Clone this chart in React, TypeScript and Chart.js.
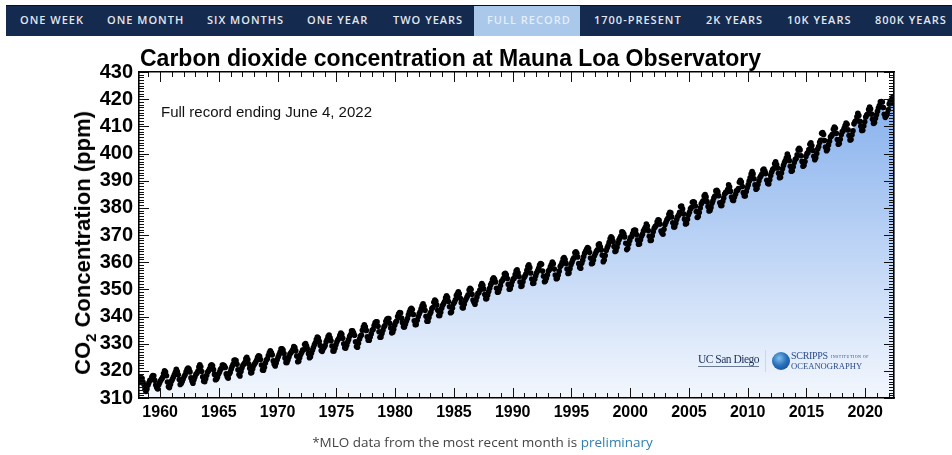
import React, { useEffect, useRef } from "react";
import { Chart, registerables } from "chart.js";

Chart.register(...registerables);

// ---- Data: Mauna Loa monthly mean CO2 (ppm), starting March 1958 ----
const START_YEAR = 1958;
const START_MONTH = 2; // March (0-based)

const co2_1958_1959 = [
  315.70, 317.45, 317.51, 317.24, 315.86, 314.93, 313.20, 312.43, 313.33, 314.67,
  315.58, 316.49, 316.65, 317.72, 318.29, 318.15, 316.54, 314.80, 313.84, 313.33, 314.81, 315.58,
];

const co2_1960s = [
  316.43, 316.98, 317.58, 319.03, 320.03, 319.59, 318.18, 315.91, 314.16, 313.83, 315.00, 316.19,
  316.89, 317.70, 318.54, 319.48, 320.58, 319.77, 318.57, 316.79, 314.99, 315.31, 316.10, 317.01,
  317.94, 318.55, 319.68, 320.57, 321.02, 320.62, 319.61, 317.40, 316.25, 315.42, 316.69, 317.70,
  318.74, 319.07, 319.86, 321.38, 322.25, 321.48, 319.74, 317.77, 316.21, 315.99, 317.07, 318.35,
  319.57, 320.01, 320.74, 321.84, 322.26, 321.89, 320.44, 318.69, 316.70, 316.87, 317.68, 318.71,
  319.44, 320.44, 320.89, 322.14, 322.17, 321.87, 321.21, 318.87, 317.81, 317.30, 318.87, 319.42,
  320.62, 321.59, 322.39, 323.87, 324.01, 323.75, 322.39, 320.37, 318.64, 318.10, 319.79, 321.08,
  322.07, 322.50, 323.04, 324.42, 325.00, 324.09, 322.54, 320.92, 319.25, 319.39, 320.73, 321.96,
  322.57, 323.15, 323.89, 325.02, 325.57, 325.36, 324.14, 322.11, 320.33, 320.25, 321.32, 322.89,
  324.00, 324.42, 325.63, 326.66, 327.38, 326.71, 325.88, 323.66, 322.38, 321.78, 322.85, 324.12,
];

const co2_1970s = [
  325.06, 325.98, 326.93, 328.13, 328.08, 327.67, 326.34, 324.69, 323.10, 323.06, 324.01, 325.13,
  326.17, 326.68, 327.17, 327.79, 328.93, 328.57, 327.36, 325.43, 323.36, 323.56, 324.80, 326.01,
  326.77, 327.63, 327.75, 329.72, 330.07, 329.09, 328.04, 326.32, 324.84, 325.20, 326.50, 327.55,
  328.55, 329.56, 330.30, 331.50, 332.48, 332.07, 330.87, 329.31, 327.51, 327.18, 328.16, 328.64,
  329.35, 330.71, 331.48, 332.65, 333.19, 332.20, 331.07, 329.15, 327.33, 327.28, 328.31, 329.58,
  330.73, 331.46, 331.94, 333.11, 333.95, 333.42, 331.97, 329.95, 328.50, 328.36, 329.38, 330.62,
  331.56, 332.74, 333.36, 334.74, 334.72, 333.98, 333.08, 330.68, 328.96, 328.72, 330.16, 331.62,
  332.68, 333.17, 334.96, 336.14, 336.93, 336.17, 334.88, 332.56, 331.29, 331.27, 332.41, 333.60,
  334.95, 335.25, 336.66, 337.69, 338.03, 338.01, 336.41, 334.41, 332.37, 332.41, 333.75, 334.90,
  336.14, 336.69, 338.27, 338.95, 339.21, 339.26, 337.54, 335.75, 333.98, 334.19, 335.31, 336.81,
];

const co2_1980s = [
  337.90, 338.34, 340.01, 340.93, 341.48, 341.33, 339.40, 337.70, 336.19, 336.15, 337.27, 338.32,
  339.29, 340.55, 341.61, 342.53, 343.03, 342.54, 340.78, 338.44, 336.95, 337.08, 338.58, 339.88,
  340.96, 341.73, 342.81, 343.97, 344.63, 343.79, 342.32, 340.09, 338.28, 338.29, 339.60, 340.90,
  341.68, 342.90, 343.33, 345.25, 346.03, 345.63, 344.19, 342.27, 340.35, 340.38, 341.59, 343.05,
  344.10, 344.79, 345.52, 346.84, 347.63, 346.97, 345.53, 343.55, 341.40, 341.67, 343.10, 344.70,
  345.21, 346.16, 347.74, 348.34, 349.06, 348.38, 346.72, 345.02, 343.27, 343.13, 344.49, 345.88,
  346.56, 347.28, 348.01, 349.77, 350.38, 349.93, 348.16, 346.08, 345.22, 344.51, 345.93, 347.22,
  348.52, 348.73, 349.73, 351.31, 352.09, 351.53, 350.11, 348.08, 346.52, 346.59, 347.96, 349.16,
  350.39, 351.64, 352.41, 353.69, 354.21, 353.72, 352.69, 350.40, 348.92, 349.13, 350.20, 351.41,
  352.91, 353.27, 353.96, 355.64, 355.86, 355.37, 353.99, 351.81, 350.05, 350.25, 351.49, 352.85,
];

const co2_1990s = [
  353.80, 354.10, 355.40, 356.76, 357.17, 356.11, 354.71, 352.67, 351.05, 351.36, 352.81, 354.22,
  354.85, 355.66, 357.04, 358.40, 359.00, 357.99, 356.00, 353.78, 352.20, 352.22, 353.70, 354.98,
  356.09, 356.85, 357.73, 358.91, 359.45, 359.19, 356.72, 354.79, 352.79, 353.20, 354.15, 355.39,
  356.77, 357.17, 358.26, 359.16, 360.07, 359.41, 357.44, 355.30, 353.87, 354.04, 355.27, 356.70,
  358.36, 358.91, 359.97, 361.26, 361.68, 360.95, 359.55, 357.49, 355.84, 356.00, 357.58, 359.04,
  359.97, 361.00, 361.64, 363.45, 363.79, 363.26, 361.90, 359.46, 358.06, 357.75, 359.56, 360.70,
  362.05, 363.25, 364.03, 364.72, 365.41, 364.97, 363.65, 361.49, 359.46, 359.60, 360.76, 362.33,
  363.18, 364.00, 364.57, 366.35, 366.79, 365.62, 364.47, 362.51, 360.19, 360.77, 362.43, 364.28,
  365.32, 366.15, 367.31, 368.61, 369.30, 368.88, 367.64, 365.78, 363.90, 364.23, 365.46, 366.97,
  368.15, 368.87, 369.59, 371.14, 371.00, 370.35, 369.27, 366.94, 364.63, 365.12, 366.67, 368.01,
];

const co2_2000s = [
  369.14, 369.46, 370.52, 371.66, 371.82, 371.70, 370.12, 368.12, 366.62, 366.73, 368.29, 369.53,
  370.28, 371.50, 372.12, 372.87, 374.02, 373.30, 371.62, 369.55, 367.96, 368.09, 369.68, 371.24,
  372.44, 373.08, 373.52, 374.85, 375.55, 375.40, 374.02, 371.48, 370.70, 370.25, 372.08, 373.78,
  374.68, 375.62, 376.11, 377.65, 378.35, 378.13, 376.61, 374.48, 372.98, 373.00, 374.35, 375.69,
  376.79, 377.36, 378.39, 380.50, 380.62, 379.55, 377.76, 375.83, 374.05, 374.22, 375.84, 377.44,
  378.34, 379.61, 380.08, 382.05, 382.24, 382.08, 380.67, 378.67, 376.42, 376.80, 378.31, 379.96,
  381.37, 382.02, 382.56, 384.37, 384.92, 384.03, 382.28, 380.48, 378.81, 379.06, 380.14, 381.66,
  382.58, 383.71, 384.34, 386.23, 386.41, 385.87, 384.45, 381.84, 380.86, 380.86, 382.36, 383.61,
  385.07, 385.72, 385.85, 386.71, 388.45, 387.64, 386.10, 383.95, 382.91, 382.73, 383.96, 385.02,
  386.26, 386.39, 387.11, 389.44, 390.18, 389.46, 387.86, 385.58, 384.38, 384.35, 386.00, 387.35,
];

const co2_2010s = [
  388.45, 389.82, 391.08, 392.46, 393.37, 392.49, 390.69, 388.45, 386.83, 387.21, 388.57, 389.95,
  391.19, 391.82, 392.44, 393.95, 394.28, 393.57, 392.61, 390.18, 388.98, 388.79, 390.36, 391.90,
  393.18, 394.13, 394.50, 396.21, 396.92, 395.96, 394.68, 392.69, 391.09, 391.24, 392.85, 394.35,
  395.62, 396.66, 397.40, 398.46, 399.76, 398.74, 397.41, 395.33, 393.50, 393.61, 395.11, 396.68,
  397.79, 398.15, 399.53, 401.36, 401.88, 401.32, 399.16, 397.09, 395.28, 395.70, 397.04, 398.88,
  399.99, 400.31, 401.50, 403.38, 403.96, 402.83, 401.12, 398.95, 397.70, 398.42, 399.96, 401.66,
  402.54, 404.09, 404.89, 407.48, 407.68, 406.97, 404.76, 402.34, 401.01, 401.52, 403.17, 404.55,
  406.10, 406.47, 407.03, 408.95, 409.72, 409.29, 407.41, 405.18, 403.43, 403.69, 405.22, 406.91,
  407.97, 408.34, 409.29, 410.29, 411.22, 410.79, 408.68, 406.63, 404.95, 405.18, 406.91, 408.37,
  410.92, 411.66, 412.00, 413.51, 414.83, 413.95, 411.81, 410.02, 408.51, 408.57, 410.16, 411.66,
];

const co2_2020s = [
  413.39, 414.11, 414.51, 416.21, 417.07, 416.38, 414.51, 412.62, 411.04, 411.41, 412.94, 414.23,
  415.52, 416.75, 417.64, 419.05, 419.13, 418.94, 416.96, 414.47, 413.30, 413.93, 414.74, 416.06,
  418.19, 419.28, 418.81, 420.23, 420.99, 420.70,
];

const yearTicks = [1960, 1965, 1970, 1975, 1980, 1985, 1990, 1995, 2000, 2005, 2010, 2015, 2020];
const ppmTicks = [310, 320, 330, 340, 350, 360, 370, 380, 390, 400, 410, 420, 430];

const X_MIN = 1958.2;
const X_MAX = 2022.45;
const Y_MIN = 310;
const Y_MAX = 430;

const navItems = [
  "ONE WEEK", "ONE MONTH", "SIX MONTHS", "ONE YEAR", "TWO YEARS",
  "FULL RECORD", "1700-PRESENT", "2K YEARS", "10K YEARS", "800K YEARS",
];
const navLefts = [20, 107, 207, 307, 393, 487, 594, 706, 787, 875];
const ACTIVE = "FULL RECORD";

const FONT = "'Liberation Sans', Arial, Helvetica, sans-serif";

// inward tick mark lengths per scale id
const TICK_LEN: Record<string, number> = {
  x: 10, xMinor: 5, xTop: 10, xTopMinor: 5,
  y: 10, yMinor: 5, yRight: 10, yRightMinor: 5,
};

const inwardTicks = {
  id: "inwardTicks",
  afterDatasetsDraw(chart: any) {
    const { ctx, chartArea: a } = chart;
    ctx.save();
    ctx.strokeStyle = "#111";
    ctx.lineWidth = 1;
    ctx.beginPath();
    for (const id of Object.keys(TICK_LEN)) {
      const s = chart.scales[id];
      if (!s) continue;
      const len = TICK_LEN[id];
      for (const t of s.ticks) {
        const p = Math.round(s.getPixelForValue(t.value)) + 0.5;
        if (s.isHorizontal()) {
          if (p < a.left - 0.5 || p > a.right + 0.5) continue;
          if (s.position === "bottom") {
            ctx.moveTo(p, a.bottom);
            ctx.lineTo(p, a.bottom - len);
          } else {
            ctx.moveTo(p, a.top);
            ctx.lineTo(p, a.top + len);
          }
        } else {
          if (p < a.top - 0.5 || p > a.bottom + 0.5) continue;
          if (s.position === "left") {
            ctx.moveTo(a.left, p);
            ctx.lineTo(a.left + len, p);
          } else {
            ctx.moveTo(a.right, p);
            ctx.lineTo(a.right - len, p);
          }
        }
      }
    }
    ctx.stroke();
    ctx.restore();
  },
};

function buildPoints() {
  const all = [
    ...co2_1958_1959, ...co2_1960s, ...co2_1970s, ...co2_1980s,
    ...co2_1990s, ...co2_2000s, ...co2_2010s, ...co2_2020s,
  ];
  return all.map((v, i) => ({
    x: START_YEAR + (START_MONTH + i + 0.5) / 12,
    y: v,
  }));
}

function ChartCanvas() {
  const ref = useRef<HTMLCanvasElement | null>(null);
  useEffect(() => {
    if (!ref.current) return;
    const pts = buildPoints();
    const noGrid = { display: false, drawTicks: false, drawOnChartArea: false };
    const border = { display: true, color: "#000", width: 1.6, z: 2 };
    const noBorder = { display: false };
    const chart = new Chart(ref.current, {
      type: "line",
      data: {
        datasets: [
          {
            label: "points",
            data: pts,
            showLine: false,
            pointRadius: 2.8,
            pointHoverRadius: 2.8,
            pointBackgroundColor: "#000",
            pointBorderWidth: 0,
            borderWidth: 0,
            fill: false,
          },
          {
            label: "fill",
            data: pts,
            pointRadius: 0,
            borderWidth: 0,
            tension: 0,
            fill: "start",
            backgroundColor: (ctx: any) => {
              const c = ctx.chart;
              const a = c.chartArea;
              if (!a) return "rgba(150,190,240,0.5)";
              const g = c.ctx.createLinearGradient(0, a.top, 0, a.bottom);
              g.addColorStop(0, "rgb(126,171,236)");
              g.addColorStop(1, "rgb(243,247,253)");
              return g;
            },
          },
        ],
      },
      options: {
        responsive: false,
        animation: false,
        devicePixelRatio: 1,
        layout: { padding: { top: 72, left: 0, right: 58, bottom: 0 } },
        plugins: {
          legend: { display: false },
          tooltip: { enabled: false },
          title: { display: false },
        },
        events: [],
        scales: {
          x: {
            type: "linear",
            position: "bottom",
            weight: 1,
            min: X_MIN,
            max: X_MAX,
            afterBuildTicks: (s: any) => {
              s.ticks = yearTicks.map((v) => ({ value: v }));
            },
            afterFit: (s: any) => {
              s.height = 57;
            },
            ticks: {
              autoSkip: false,
              maxRotation: 0,
              padding: 5,
              color: "#000",
              font: { family: FONT, size: 16, weight: "bold" },
              callback: (v: any) => String(v),
            },
            grid: noGrid,
            border,
          },
          xMinor: {
            type: "linear",
            position: "bottom",
            weight: 0,
            min: X_MIN,
            max: X_MAX,
            afterFit: (s: any) => {
              s.height = 0;
            },
            ticks: { display: false, stepSize: 1, includeBounds: false, autoSkip: false },
            grid: noGrid,
            border: noBorder,
          },
          xTop: {
            type: "linear",
            position: "top",
            weight: 1,
            min: X_MIN,
            max: X_MAX,
            afterBuildTicks: (s: any) => {
              s.ticks = yearTicks.map((v) => ({ value: v }));
            },
            afterFit: (s: any) => {
              s.height = 0;
            },
            ticks: { display: false, autoSkip: false },
            grid: noGrid,
            border,
          },
          xTopMinor: {
            type: "linear",
            position: "top",
            weight: 0,
            min: X_MIN,
            max: X_MAX,
            afterFit: (s: any) => {
              s.height = 0;
            },
            ticks: { display: false, stepSize: 1, includeBounds: false, autoSkip: false },
            grid: noGrid,
            border: noBorder,
          },
          y: {
            type: "linear",
            position: "left",
            weight: 1,
            min: Y_MIN,
            max: Y_MAX,
            afterBuildTicks: (s: any) => {
              s.ticks = ppmTicks.map((v) => ({ value: v }));
            },
            afterFit: (s: any) => {
              s.width = 139;
            },
            ticks: {
              autoSkip: false,
              padding: 6,
              color: "#000",
              font: { family: FONT, size: 20, weight: "bold" },
              callback: (v: any) => String(v),
            },
            grid: noGrid,
            border,
          },
          yMinor: {
            type: "linear",
            position: "left",
            weight: 0,
            min: Y_MIN,
            max: Y_MAX,
            afterFit: (s: any) => {
              s.width = 0;
            },
            ticks: { display: false, stepSize: 1, autoSkip: false },
            grid: noGrid,
            border: noBorder,
          },
          yRight: {
            type: "linear",
            position: "right",
            weight: 1,
            min: Y_MIN,
            max: Y_MAX,
            afterBuildTicks: (s: any) => {
              s.ticks = ppmTicks.map((v) => ({ value: v }));
            },
            afterFit: (s: any) => {
              s.width = 0;
            },
            ticks: { display: false, autoSkip: false },
            grid: noGrid,
            border,
          },
          yRightMinor: {
            type: "linear",
            position: "right",
            weight: 0,
            min: Y_MIN,
            max: Y_MAX,
            afterFit: (s: any) => {
              s.width = 0;
            },
            ticks: { display: false, stepSize: 1, autoSkip: false },
            grid: noGrid,
            border: noBorder,
          },
        },
      } as any,
      plugins: [inwardTicks],
    });
    return () => chart.destroy();
  }, []);
  return (
    <canvas
      ref={ref}
      width={952}
      height={455}
      style={{ position: "absolute", left: 0, top: 0, width: 952, height: 455 }}
    />
  );
}

export default function App() {
  return (
    <div
      style={{
        position: "absolute",
        left: 0,
        top: 0,
        width: 952,
        height: 455,
        background: "#fff",
        overflow: "hidden",
      }}
    >
      {/* nav bar */}
      <div
        style={{
          position: "absolute",
          left: 6,
          top: 5,
          width: 946,
          height: 31,
          background: "#142a4e",
          borderTop: "1px solid #0a1020",
          boxSizing: "border-box",
        }}
      />
      <div
        style={{
          position: "absolute",
          left: 474,
          top: 6,
          width: 106,
          height: 30,
          background: "#a9c8ea",
        }}
      />
      {navItems.map((t, i) => (
        <div
          key={t}
          style={{
            position: "absolute",
            left: navLefts[i],
            top: 13,
            fontFamily: "'Open Sans', sans-serif",
            fontWeight: 600,
            fontSize: 11,
            lineHeight: "14px",
            letterSpacing: 1.0,
            whiteSpace: "nowrap",
            color: t === ACTIVE ? "#e4eefa" : "#e3e7ee",
          }}
        >
          {t}
        </div>
      ))}

      <ChartCanvas />

      {/* title */}
      <div
        style={{
          position: "absolute",
          left: 140,
          top: 46.5,
          fontFamily: FONT,
          fontWeight: 700,
          fontSize: 23,
          lineHeight: "23px",
          whiteSpace: "nowrap",
          color: "#000",
        }}
      >
        Carbon dioxide concentration at Mauna Loa Observatory
      </div>

      {/* annotation */}
      <div
        style={{
          position: "absolute",
          left: 161,
          top: 103.5,
          fontFamily: FONT,
          fontSize: 15,
          lineHeight: "15px",
          whiteSpace: "nowrap",
          color: "#111",
        }}
      >
        Full record ending June 4, 2022
      </div>

      {/* y-axis title */}
      <div
        style={{
          position: "absolute",
          left: 84,
          top: 243,
          transform: "translate(-50%, -50%) rotate(-90deg)",
          fontFamily: FONT,
          fontWeight: 700,
          fontSize: 22,
          lineHeight: "26px",
          whiteSpace: "nowrap",
          color: "#000",
        }}
      >
        CO
        <span style={{ fontSize: 15, position: "relative", top: 6 }}>2</span> Concentration (ppm)
      </div>

      {/* logos */}
      <div
        style={{
          position: "absolute",
          left: 698,
          top: 353,
          fontFamily: "'Liberation Serif', 'DejaVu Serif', serif",
          fontSize: 11.5,
          lineHeight: "13px",
          letterSpacing: -0.5,
          color: "#1b2f57",
          borderBottom: "1px solid #6a7a99",
          whiteSpace: "nowrap",
        }}
      >
        UC San Diego
      </div>
      <div
        style={{
          position: "absolute",
          left: 765,
          top: 350,
          width: 1,
          height: 22,
          background: "#d0d6e0",
        }}
      />
      <div
        style={{
          position: "absolute",
          left: 772,
          top: 352,
          width: 18,
          height: 18,
          borderRadius: "50%",
          background: "radial-gradient(circle at 40% 35%, #7fc0ea 0%, #2a72bd 45%, #0f3f82 100%)",
        }}
      />
      <div
        style={{
          position: "absolute",
          left: 791,
          top: 351,
          fontFamily: "'Liberation Serif', 'DejaVu Serif', serif",
          fontSize: 10,
          lineHeight: "10px",
          letterSpacing: -0.3,
          color: "#2b4c8c",
          whiteSpace: "nowrap",
        }}
      >
        SCRIPPS
        <span style={{ fontSize: 4, marginLeft: 3, letterSpacing: 0.5, verticalAlign: "middle" }}>
          INSTITUTION OF
        </span>
      </div>
      <div
        style={{
          position: "absolute",
          left: 791,
          top: 361,
          fontFamily: "'Liberation Serif', 'DejaVu Serif', serif",
          fontSize: 8.6,
          lineHeight: "10px",
          color: "#2b4c8c",
          whiteSpace: "nowrap",
        }}
      >
        OCEANOGRAPHY
      </div>

      {/* footnote */}
      <div
        style={{
          position: "absolute",
          left: 0,
          width: 965,
          top: 434,
          textAlign: "center",
          fontFamily: "'Open Sans', sans-serif",
          fontSize: 13.5,
          lineHeight: "16px",
          color: "#444",
          whiteSpace: "nowrap",
        }}
      >
        *MLO data from the most recent month is <span style={{ color: "#2f7fb0" }}>preliminary</span>
      </div>
    </div>
  );
}
